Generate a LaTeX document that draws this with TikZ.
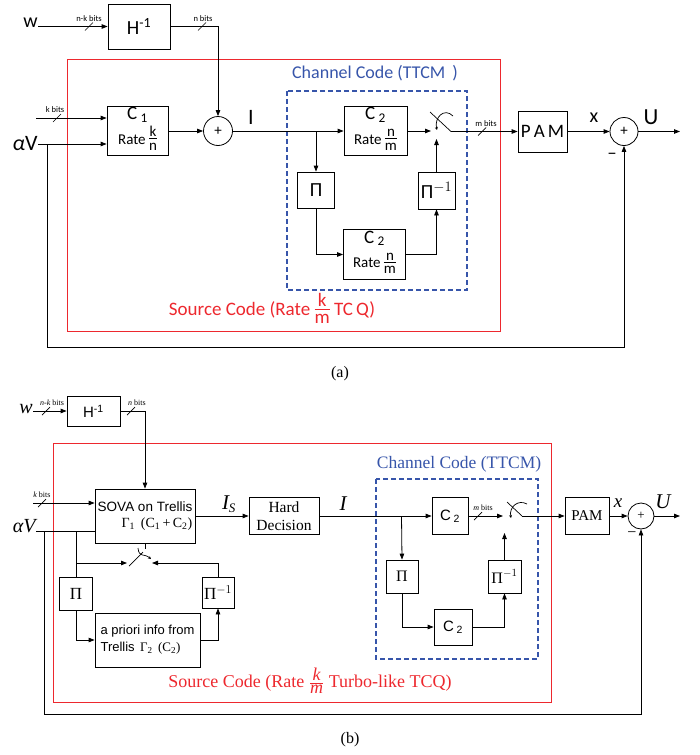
\documentclass[tikz,border=0pt]{standalone}
\usepackage{fontspec}
\setmainfont{Liberation Serif}
\setsansfont{Liberation Sans}
\newfontfamily\myr{Carlito}
\usetikzlibrary{arrows.meta}
\definecolor{srcred}{RGB}{237,40,46}
\definecolor{chblue}{RGB}{55,85,170}
\newcommand{\fsz}[1]{\fontsize{#1}{#1}\selectfont}
\newcommand{\busmark}[6]{%
  \draw[line width=0.7pt] (#2-4,#3+4) -- (#2+4,#3-4);
  \node[lbl,font=#6] (#1) at (#4,#3-8) {#5};}
\newcommand{\sfrac}[2]{\ensuremath{\vcenter{\hbox{\begin{tabular}{@{}c@{}}#1\\[-3pt]\hline\noalign{\vskip1pt}#2\end{tabular}}}}}
\begin{document}
\begin{tikzpicture}[x=1pt,y=-1pt,line width=0.8pt,
  box/.style={draw,line width=0.8pt,inner sep=1pt,align=center},
  arr/.style={-{Triangle[length=6pt,width=4.5pt]}},
  sumc/.style={draw,circle,inner sep=0pt},
  lbl/.style={inner sep=0pt},
  redbox/.style={draw=srcred,line width=0.9pt},
  bluebox/.style={draw=chblue,line width=1.4pt,dash pattern=on 5pt off 3pt},
  swarc/.style={-{Stealth[length=3pt,width=3pt]},line width=0.7pt}]
\useasboundingbox (0,0) rectangle (700,755);

% ================= (a) =================
\draw[redbox] (67,59) rectangle (500,331);
\draw[bluebox] (287,91) rectangle (467,290);
\node[lbl,font=\myr\fsz{18},text=chblue] (chA) at (375,73) {Channel Code (TTCM\ \,)};
\node[lbl,font=\myr\fsz{19},text=srcred] (srcA) at (272,311) {Source Code (Rate \sfrac{k}{m} TC\,Q)};

\node[lbl,anchor=east,font=\myr\fsz{20}] (wA) at (38,23) {w};
\node[box,minimum width=62,minimum height=45,font=\myr\fsz{20}] (HA) at (139,26.5) {H\textsuperscript{-1}};
\draw[arr] (HA.west -| wA.east) -- (HA.west);
\busmark{nkA}{89}{26.5}{89}{n-k bits}{\myr\fsz{8.5}}
\node[sumc,minimum size=29,font=\myr\fsz{15}] (plusA) at (218,131) {+};
\draw[arr] (HA.east) -| (plusA.north);
\busmark{nA}{202}{26.5}{203}{n bits}{\myr\fsz{8.5}}

\node[box,minimum width=61,minimum height=48,font=\myr] (C1) at (137.5,131)
  {{\fsz{19}C\,\textsubscript{1}}\\[3pt]{\fsz{15}Rate \sfrac{k}{n}}};
\coordinate (kA) at (36,118);
\draw[arr] (kA) -- (kA -| C1.west);
\busmark{kbA}{57}{118}{55}{k bits}{\myr\fsz{8.5}}
\node[lbl,anchor=east,font=\myr\fsz{22}] (aVA) at (38,144) {{\itshape α}V};
\draw[arr] (aVA.east) -- (aVA.east -| C1.west);
\draw[arr] (C1.east) -- (plusA.west);

\node[box,minimum width=63,minimum height=48,font=\myr] (C2a) at (375.5,131)
  {{\fsz{19}C\,\textsubscript{2}}\\[3pt]{\fsz{15}Rate \sfrac{n}{m}}};
\draw[arr] (plusA.east) -- (C2a.west);
\node[lbl,font=\myr\fsz{22}] (IA) at (251,117) {I};
\coordinate (brA) at (316,131);
\node[box,minimum width=37,minimum height=36,font=\myr\fsz{20}] (PiA) at (316,190) {Π};
\draw[arr] (brA) -- (PiA.north);
\node[box,minimum width=62,minimum height=50,font=\myr] (C2b) at (374.5,254.5)
  {{\fsz{19}C\,\textsubscript{2}}\\[3pt]{\fsz{15}Rate \sfrac{n}{m}}};
\draw[arr] (PiA.south) |- (C2b.west);
\node[box,minimum width=37,minimum height=37,font=\myr\fsz{20}] (PiiA) at (436.5,190.5) {Π$^{-1}$};
\draw[arr] (C2b.east) -| (PiiA.south);
\coordinate (swA) at (436.5,139);
\draw[arr] (PiiA.north) -- (swA);
\coordinate (swinA) at (431,131);
\draw[arr] (C2a.east) -- (swinA);
\draw[line width=0.7pt] (430,112) -- (451,131.5);
\draw[swarc] (453,116) .. controls (444,107) and (434,118) .. (437,130);
\node[box,minimum width=49,minimum height=41,font=\myr\fsz{19}] (PAMA) at (542.5,131.5) {P\,A\,M};
\coordinate (swoA) at (451,131.5);
\draw[arr] (swoA) -- (PAMA.west);
\busmark{mA}{482}{131.5}{486}{m bits}{\myr\fsz{8.5}}
\node[sumc,minimum size=28,font=\myr\fsz{15}] (plus2A) at (624,131.5) {+};
\draw[arr] (PAMA.east) -- (plus2A.west);
\node[lbl,font=\myr\fsz{20}] (xA) at (594,118) {x};
\coordinate (outA) at (680,131.5);
\draw[arr] (plus2A.east) -- (outA);
\node[lbl,font=\myr\fsz{23}] (UA) at (651,117) {U};
\node[lbl,font=\myr\fsz{18}] (mnA) at (612,156) {−};
\coordinate (fbA) at (47,144);
\draw[arr] (fbA) -- (47,347) -| (plus2A.south);
\node[lbl,font=\fsz{16}] (capA) at (340,374) {(a)};

% ================= (b) =================
\draw[redbox] (53,443) rectangle (551,702);
\draw[bluebox] (376,479) rectangle (538,659);
\node[lbl,font=\fsz{17.5},text=chblue] (chB) at (459,464) {Channel Code (TTCM)};
\node[lbl,font=\fsz{18},text=srcred] (srcB) at (310,681) {Source Code (Rate $\frac{\hbox{\itshape k}}{\hbox{\itshape m}}$ Turbo-like TCQ)};

\node[lbl,anchor=east,font=\itshape\fsz{20}] (wB) at (33,409) {w};
\node[box,minimum width=53,minimum height=30,font=\sffamily\fsz{15}] (HB) at (93.5,411) {H\textsuperscript{-1}};
\draw[arr] (HB.west -| wB.east) -- (HB.west);
\busmark{nkB}{46}{411}{52}{\itshape n-k\upshape\ bits}{\fsz{8}}
\node[box,minimum width=100,minimum height=54,align=right,inner sep=2pt] (SOVA) at (145,516)
  {{\sffamily\fsz{13.5}SOVA on Trellis}\\[4pt]{\fsz{14}Γ\textsubscript{1}\ \,(C\textsubscript{1}\,+\,C\textsubscript{2})}};
\draw[arr] (HB.east) -| (SOVA.north);
\busmark{nB}{131}{411}{137}{\itshape n\upshape\ bits}{\fsz{8}}
\coordinate (kB) at (33,503);
\draw[arr] (kB) -- (kB -| SOVA.west);
\busmark{kbB}{42}{503}{42}{\itshape k\upshape\ bits}{\fsz{8}}
\node[lbl,anchor=east,font=\itshape\fsz{20}] (aVB) at (36,526) {αV};
\coordinate (aVl) at (36,531);
\draw (aVl) -- (aVl -| SOVA.west);
\coordinate (brL) at (76,531);
\node[box,minimum width=33,minimum height=33,font=\fsz{17}] (PiB) at (76,593.5) {Π};
\draw (brL) -- (PiB.north);
\coordinate (brL2) at (76,563);
\coordinate (swLa) at (127,563);
\draw[arr] (brL2) -- (swLa);
\node[box,minimum width=105,minimum height=54,align=left,inner sep=2pt] (apri) at (147.5,640)
  {{\sffamily\fsz{13}a priori info from}\\[4pt]{\fsz{13}{\sffamily Trellis}\ \,Γ\textsubscript{2}\ \,(C\textsubscript{2})}};
\draw[arr] (PiB.south) |- (apri.west);
\node[box,minimum width=32,minimum height=31,font=\fsz{17}] (PiiB) at (218,592.5) {Π$^{-1}$};
\draw[arr] (apri.east) -| (PiiB.south);
\coordinate (swLb) at (152,563);
\draw[arr] (PiiB.north) |- (swLb);
\coordinate (swLt) at (145,549);
\draw (SOVA.south) -- (swLt);
\draw[line width=0.7pt] (129,566) -- (143,552);
\draw[swarc] (138,548) .. controls (139,558) and (144,553) .. (151,559);

\node[box,minimum width=70,minimum height=37,font=\fsz{15.5}] (HD) at (284,516) {Hard\\[2pt]Decision};
\draw[arr] (SOVA.east) -- (HD.west);
\node[lbl,font=\itshape\fsz{21}] (ISB) at (229,504) {I\textsubscript{\fsz{13}S}};
\node[box,minimum width=36,minimum height=37,font=\sffamily\fsz{15}] (C2t) at (450,516) {C\,\textsubscript{2}};
\draw[arr] (HD.east) -- (C2t.west);
\node[lbl,font=\itshape\fsz{21}] (IB) at (343,504) {I};
\coordinate (brB) at (401.5,516);
\node[box,minimum width=32,minimum height=33,font=\fsz{16}] (PiB2) at (402,576.5) {Π};
\draw[arr] (brB) -- (PiB2.north);
\node[box,minimum width=38,minimum height=36,font=\sffamily\fsz{15}] (C2bB) at (453,627) {C\,\textsubscript{2}};
\draw[arr] (PiB2.south) |- (C2bB.west);
\node[box,minimum width=33,minimum height=33,font=\fsz{16}] (PiiB2) at (504.5,576.5) {Π$^{-1}$};
\draw[arr] (C2bB.east) -| (PiiB2.south);
\coordinate (swRb) at (504.5,533);
\draw[arr] (PiiB2.north) -- (swRb);
\coordinate (swRa) at (503,516);
\draw[arr] (C2t.east) -- (swRa);
\busmark{mB}{478}{516}{483}{\itshape m\upshape\ bits}{\fsz{8}}
\draw[line width=0.7pt] (507,502) -- (522,516);
\draw[swarc] (527,504) .. controls (518,499) and (509,507) .. (511,518);
\node[box,minimum width=44,minimum height=37,font=\fsz{15}] (PAMB) at (587,516) {PAM};
\coordinate (swoB) at (522,516);
\draw[arr] (swoB) -- (PAMB.west);
\node[sumc,minimum size=26,font=\fsz{13}] (plusB) at (641,516) {+};
\draw[arr] (PAMB.east) -- (plusB.west);
\node[lbl,font=\itshape\fsz{19}] (xB) at (618,503) {x};
\coordinate (outB) at (680,516);
\draw[arr] (plusB.east) -- (outB);
\node[lbl,font=\itshape\fsz{21}] (UB) at (663,502) {U};
\node[lbl,font=\fsz{16}] (mnB) at (632,535) {−};
\coordinate (fbB) at (44,531);
\draw[arr] (fbB) -- (44,714) -| (plusB.south);
\node[lbl,font=\fsz{16}] (capB) at (350,740) {(b)};
\end{tikzpicture}
\end{document}
